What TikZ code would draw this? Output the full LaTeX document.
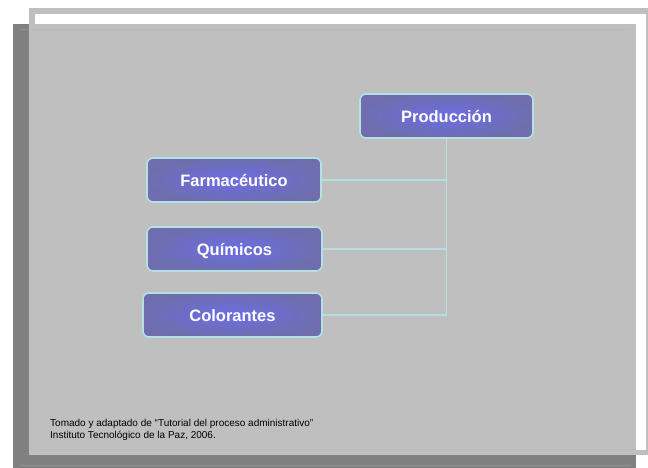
\documentclass[tikz,border=0pt]{standalone}
\usepackage{fontspec}
\setmainfont{Liberation Sans}
\definecolor{slideshadow}{HTML}{808080}
\definecolor{slidegrey}{HTML}{BFBFBF}
\definecolor{boxedge}{HTML}{B4E2E4}
\definecolor{boxmid}{HTML}{6C6CE6}
\definecolor{boxrim}{HTML}{6E6EAE}
\definecolor{linkline}{HTML}{B4E0E0}
\tikzset{
  orgbox/.style={draw=boxedge, line width=1.6pt, rounded corners=6pt,
    inner color=boxmid, outer color=boxrim, text=white,
    font=\fontsize{16.5}{19}\selectfont\bfseries, inner sep=0pt,
    text height=12.4pt, text depth=0pt},
  link/.style={draw=linkline, line width=1.8pt},
  rule/.style={draw=gray!60, draw opacity=0.35, line width=1pt},
  note/.style={anchor=base west, inner sep=0pt, font=\fontsize{10}{11.5}\selectfont, text=black}
}
\begin{document}
\begin{tikzpicture}[x=1pt,y=-1pt]
  \useasboundingbox (0,0) rectangle (648,468);
  % slide shadow and white framed card
  \fill[slideshadow] (13,24) rectangle (636,468);
  \fill[slidegrey] (29,8) rectangle (648,455);
  \fill[white] (35,14) rectangle (646,450);
  % slide body
  \fill[slidegrey] (29,24) rectangle (636,455);
  % faint separator rules
  \draw[rule] (20,29.5) -- (628,29.5);
  \draw[rule] (36,449) -- (636,449);
  \draw[rule] (20,465) -- (630,465);

  % boxes
  \node[orgbox, minimum width=173pt, minimum height=44pt] (prod) at (446.5,116) {Producción};
  \node[orgbox, minimum width=174pt, minimum height=44pt] (farm) at (234,180) {Farmacéutico};
  \node[orgbox, minimum width=175pt, minimum height=44pt] (quim) at (234.5,249) {Químicos};
  \node[orgbox, minimum width=179pt, minimum height=44pt] (colo) at (232.5,315) {Colorantes};

  % connectors
  \draw[link] (prod.south) -- (prod.south |- colo.east);
  \draw[link] (farm.east) -- (farm.east -| prod.south);
  \draw[link] (quim.east) -- (quim.east -| prod.south);
  \draw[link] (colo.east) -- (colo.east -| prod.south);

  % source note
  \node[note] (src1) at (50,426.5) {Tomado y adaptado de “Tutorial del proceso administrativo”};
  \node[note] (src2) at (50,438) {Instituto Tecnológico de la Paz, 2006.};
\end{tikzpicture}
\end{document}
